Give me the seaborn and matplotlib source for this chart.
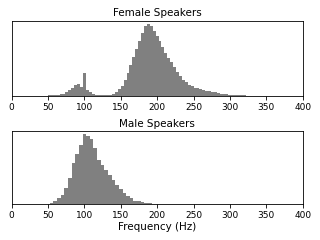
import matplotlib
matplotlib.use("Agg")
import matplotlib.pyplot as plt
import seaborn as sns
import numpy as np
import pandas as pd

# female pitch histogram, 4 Hz bins starting at 42 Hz (relative heights)
female_start = 42
female_width = 4
female_heights = [
    0.0, 0.0, 0.005, 0.01, 0.01, 0.01, 0.02, 0.03, 0.05, 0.08,
    0.11, 0.14, 0.16, 0.12, 0.30, 0.08, 0.05, 0.03, 0.015, 0.01,
    0.01, 0.01, 0.01, 0.015, 0.03, 0.05, 0.09, 0.13, 0.21, 0.30,
    0.41, 0.52, 0.63, 0.73, 0.84, 0.94, 0.96, 0.93, 0.87, 0.80,
    0.73, 0.65, 0.58, 0.51, 0.45, 0.38, 0.32, 0.26, 0.21, 0.18,
    0.15, 0.13, 0.11, 0.10, 0.09, 0.08, 0.07, 0.06, 0.05, 0.045,
    0.035, 0.03, 0.027, 0.02, 0.016, 0.012, 0.01, 0.007, 0.005, 0.004,
    0.003, 0.002, 0.001,
]

# male pitch histogram, 5 Hz bins starting at 52.5 Hz
male_start = 52.5
male_width = 5
male_heights = [
    0.02, 0.04, 0.08, 0.13, 0.23, 0.36, 0.57, 0.70, 0.82, 0.97,
    0.95, 0.90, 0.78, 0.62, 0.54, 0.47, 0.40, 0.33, 0.27, 0.21,
    0.15, 0.11, 0.08, 0.05, 0.04, 0.03, 0.02, 0.015, 0.01, 0.008,
    0.005, 0.004, 0.003, 0.002,
]


def draw_hist(ax, start, width, heights, title):
    n = len(heights)
    edges = (start + width * np.arange(n + 1)).tolist()
    df = pd.DataFrame({"freq": [e + width / 2 for e in edges[:-1]], "h": heights})
    sns.histplot(data=df, x="freq", weights="h", bins=edges, ax=ax,
                 color="#808080", alpha=1, linewidth=0)
    ax.set_xlim(0, 400)
    ax.set_xticks(range(0, 401, 50))
    ax.set_yticks([])
    ax.set_ylabel("")
    ax.set_title(title, fontsize=7.5, pad=3)
    ax.tick_params(axis="x", labelsize=6.5, length=3, width=0.6, pad=2)
    for s in ax.spines.values():
        s.set_linewidth(0.6)


fig = plt.figure(figsize=(3.2, 2.4), dpi=100)
ax1 = fig.add_axes([0.036, 0.601, 0.910, 0.313])
ax2 = fig.add_axes([0.036, 0.149, 0.910, 0.306])

draw_hist(ax1, female_start, female_width, female_heights, "Female Speakers")
draw_hist(ax2, male_start, male_width, male_heights, "Male Speakers")
ax1.set_xlabel("")
ax2.set_xlabel("Frequency (Hz)", fontsize=7.5, labelpad=1)

plt.savefig("out.png", dpi=100)
